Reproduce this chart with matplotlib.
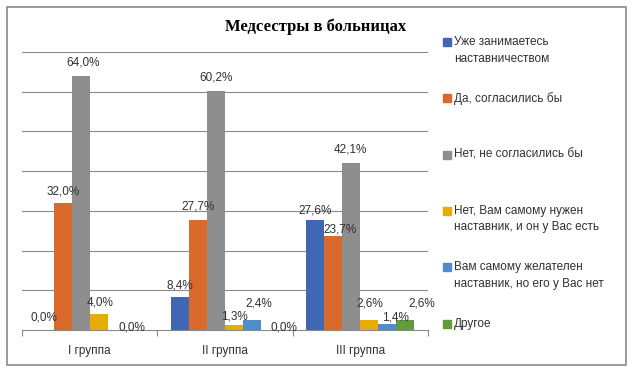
# Import
import matplotlib.pyplot as plt
from matplotlib.patches import Rectangle
import numpy as np

# Chart data
groupNames = ['I группа', 'II группа', 'III группа']
seriesNames = ['Уже занимаетесь\nнаставничеством',
               'Да, согласились бы',
               'Нет, не согласились бы',
               'Нет, Вам самому нужен\nнаставник, и он у Вас есть',
               'Вам самому желателен\nнаставник, но его у Вас нет',
               'Другое']
alreadyMentor = [0.0, 8.4, 27.6]
yesAgree = [32.0, 27.7, 23.7]
noAgree = [64.0, 60.2, 42.1]
needHave = [4.0, 1.3, 2.6]
needNotHave = [0.0, 2.4, 1.4]
otherAnswer = [0.0, 0.0, 2.6]
seriesValues = [alreadyMentor, yesAgree, noAgree, needHave, needNotHave, otherAnswer]
# which data labels are shown (series x group)
labelShown = [[True, True, True],
              [True, True, True],
              [True, True, True],
              [True, True, True],
              [False, True, True],
              [True, True, True]]

# Styles
seriesColors = ['#3F67B3', '#DA6A2B', '#8E8E8E', '#E6AD07', '#4E8DCA', '#609C3E']
gridColor = '#8A8A8A'
textColor = '#303030'
# label offsets in pixels (dx, dy above bar top), per series x group
labelOffsets = [[(-1, 12), (0, 11), (0, 10)],
                [(0, 11), (0, 13), (7, 6)],
                [(2, 13), (0, 13), (-1, 13)],
                [(1, 12), (0, 8), (0, 16)],
                [(0, 0), (7, 17), (8, 7)],
                [(-3, 3), (14, 3), (16, 16)]]

W, H = 637, 377
fig = plt.figure(figsize=(W / 100, H / 100), dpi=100)
ax = fig.add_axes([22 / W, 1 - 330 / H, (428 - 22) / W, (330 - 52) / H])

# Bars
index = np.arange(len(groupNames))
barWidth = 0.133
for j, values in enumerate(seriesValues):
    xPos = index + (j - 2.5) * barWidth
    ax.bar(xPos, values, barWidth, color=seriesColors[j], zorder=3)
    for i in range(len(groupNames)):
        if not labelShown[j][i]:
            continue
        dx, dy = labelOffsets[j][i]
        text = ('%.1f%%' % values[i]).replace('.', ',')
        ax.annotate(text, (xPos[i], values[i]), xytext=(dx, dy),
                    textcoords='offset pixels', ha='center', va='center',
                    fontsize=8.5, family='Liberation Sans', color=textColor, zorder=4)

# Axes styling
ax.set_xlim(-0.5, 2.5)
ax.set_ylim(0, 70)
ax.set_yticks(np.arange(10, 71, 10))
ax.yaxis.grid(True, color=gridColor, linewidth=0.8)
ax.tick_params(axis='y', left=False, labelleft=False)
for side in ['left', 'right', 'top']:
    ax.spines[side].set_visible(False)
ax.spines['bottom'].set_color(gridColor)
ax.spines['bottom'].set_linewidth(0.8)
ax.set_xticks([-0.5, 0.5, 1.5, 2.5])
ax.set_xticklabels([])
ax.tick_params(axis='x', length=4, color=gridColor, width=0.8, direction='out')
for i, name in enumerate(groupNames):
    ax.text(i, -21 / 3.97, name, ha='center', va='center', fontsize=8.5,
            family='Liberation Sans', color=textColor)

# Title
fig.text(316 / W, 1 - 27 / H, 'Медсестры в больницах', ha='center', va='center',
         fontsize=12, fontweight='bold', family='Liberation Serif')

# Legend
legendY = [42, 98, 155, 211, 267, 324]
for j, name in enumerate(seriesNames):
    y = legendY[j]
    fig.patches.append(Rectangle((443 / W, 1 - (y + 4) / H), 8 / W, 8 / H,
                                 transform=fig.transFigure, color=seriesColors[j]))
    fig.text(454 / W, 1 - (y - 6) / H, name, ha='left', va='top', fontsize=8.5,
             family='Liberation Sans', color=textColor, linespacing=1.5)

# Border
fig.patches.append(Rectangle((7 / W, 1 - 365 / H), 619 / W, 358 / H, fill=False,
                             transform=fig.transFigure, edgecolor='#8A8A8A', linewidth=1.2))

fig.savefig('out.png', dpi=100)
